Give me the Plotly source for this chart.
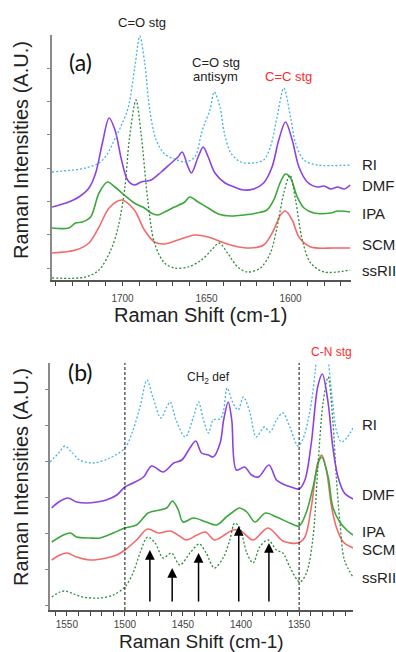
import plotly.graph_objects as go

W, H = 396, 652

# ---------------- Panel (a): 1565-1740 cm-1 (intensity in arbitrary units, stacked) -------------
a_RI_x = [1742, 1722, 1714, 1709.5, 1704, 1700.6, 1696.5, 1692.7, 1689.7, 1686.8, 1683.8, 1680, 1675, 1669, 1663,
          1657, 1653, 1651, 1648, 1645.4, 1642, 1639.4, 1635.5, 1629.6, 1622, 1616, 1612, 1608, 1604, 1600, 1597,
          1592, 1584, 1564]
a_RI_y = [108, 112, 117, 125, 143, 155, 173, 213, 244, 217, 170, 140, 126, 121, 118,
          123, 147, 157, 170, 188, 173, 147, 127, 118, 117, 120, 133, 163, 192, 163, 137,
          120, 115, 115]

a_DMF_x = [1742, 1732, 1726, 1720, 1716, 1712, 1708, 1704.5, 1700.6, 1697, 1693, 1689, 1683, 1677, 1671, 1667,
           1664.5, 1661, 1659, 1655, 1652, 1649, 1645, 1639, 1633.5, 1628, 1622, 1616, 1611, 1607, 1603, 1599,
           1595, 1590, 1584, 1580, 1576, 1572, 1568, 1564.5]
a_DMF_y = [73, 78, 83, 92, 107, 137, 162, 150, 120, 100, 95, 98, 100, 108, 117, 123,
           128, 113, 107, 123, 133, 123, 107, 97, 93, 90, 91, 97, 113, 140, 158, 140,
           113, 98, 93, 94, 91, 93, 91, 95]

a_IPA_x = [1742, 1732, 1728, 1724, 1719, 1714, 1709, 1704.5, 1699, 1693, 1687, 1683, 1679, 1675, 1669, 1663,
           1660, 1655, 1649, 1643, 1635.5, 1628, 1620, 1614, 1610, 1606, 1603, 1600, 1596, 1592, 1586, 1576,
           1572, 1564.5]
a_IPA_y = [52, 52, 57, 58, 63, 87, 98, 93, 85, 77, 72, 67, 65, 68, 73, 78,
           83, 78, 72, 66, 64, 65, 67, 70, 80, 98, 106, 102, 83, 72, 67, 67,
           69, 68]

a_SCM_x = [1742, 1728, 1720, 1714, 1708, 1700.6, 1693, 1687, 1681, 1675, 1667, 1657, 1649, 1641, 1633.5, 1624,
           1616, 1610, 1606, 1603, 1599, 1595, 1588, 1574, 1564.5]
a_SCM_y = [27, 30, 37, 53, 72, 80, 70, 50, 38, 36, 40, 45, 43, 38, 34, 32,
           35, 50, 65, 69, 60, 43, 33, 32, 32]

a_ssRII_x = [1742, 1722, 1714, 1707, 1702.6, 1698.6, 1696, 1692, 1689, 1685, 1681, 1675, 1669, 1661, 1653, 1647,
             1642.5, 1637.5, 1631.5, 1625.6, 1618, 1612, 1608, 1604, 1600.4, 1597, 1593, 1588, 1580, 1564.5]
a_ssRII_y = [2, 3, 10, 30, 53, 93, 140, 180, 147, 80, 37, 17, 12, 13, 20, 30,
             37, 27, 13, 8, 12, 27, 53, 87, 105, 80, 40, 17, 8, 10]

# ---------------- Panel (b): 1305-1565 cm-1 -------------
b_RI_x = [1564.5, 1557, 1551.6, 1546, 1539, 1527, 1513, 1500, 1493, 1487, 1481, 1476, 1469, 1464, 1461, 1456,
          1448, 1441, 1436.6, 1433, 1428, 1424, 1418, 1415, 1412, 1407, 1402.5, 1398, 1392.5, 1387, 1380, 1375,
          1369.5, 1364, 1358, 1351, 1347, 1341, 1336, 1333, 1330, 1327, 1324.5, 1321, 1318, 1313.6, 1309, 1303.6]
b_RI_y = [148, 157, 164, 158, 150, 147, 152, 162, 180, 203, 230, 213, 192, 203, 208, 190,
          173, 193, 208, 193, 177, 190, 191, 200, 222, 207, 200, 213, 198, 173, 183, 178,
          190, 197, 183, 164, 170, 197, 240, 290, 310, 290, 247, 207, 180, 168, 172, 182]

b_DMF_x = [1563, 1557, 1549, 1541.6, 1533, 1524, 1516, 1507, 1500, 1493, 1484, 1477, 1467, 1458, 1451, 1444,
           1439, 1434, 1428, 1424, 1418, 1415, 1411, 1408, 1404, 1397, 1391, 1385, 1376, 1369.5, 1364, 1357,
           1350, 1345, 1339.5, 1334, 1330, 1325, 1321, 1316.5, 1311, 1303.6]
b_DMF_y = [102, 108, 112, 108, 107, 108, 110, 115, 123, 127, 133, 144, 138, 147, 150, 162,
           169, 157, 155, 153, 167, 190, 208, 190, 140, 143, 135, 133, 145, 130, 126, 123,
           121, 130, 167, 223, 236, 207, 163, 133, 117, 111]

b_IPA_x = [1563, 1553, 1547, 1541.6, 1530, 1521.5, 1510, 1500, 1490, 1480, 1470, 1464, 1459, 1454, 1450, 1441,
           1430, 1421, 1412.7, 1407, 1401.6, 1395, 1388, 1379, 1369.5, 1358, 1350, 1344, 1338, 1332.6, 1330.5,
           1325, 1321, 1315, 1309, 1303.6]
b_IPA_y = [68, 75, 77, 73, 72, 72, 77, 82, 85, 97, 100, 102, 109, 100, 88, 92,
           88, 85, 93, 98, 102, 98, 88, 97, 93, 87, 84, 97, 123, 150, 153,
           133, 103, 88, 80, 75]

b_SCM_x = [1563, 1556, 1550, 1541.6, 1530, 1516, 1507, 1500, 1490, 1480.5, 1471, 1461, 1453, 1447, 1438, 1430.6,
           1422.6, 1407, 1400, 1389.6, 1376.7, 1364, 1351, 1345, 1339.5, 1334, 1330.5, 1326.5, 1322, 1318, 1312,
           1303.6]
b_SCM_y = [50, 55, 57, 53, 50, 52, 55, 60, 70, 81, 77, 79, 74, 70, 75, 78,
           70, 80, 79, 70, 82, 69, 67, 73, 103, 147, 155, 140, 103, 83, 68,
           62]

b_ssRII_x = [1563, 1556, 1551, 1544, 1536, 1521.5, 1510, 1500, 1493, 1487, 1480.5, 1474, 1467, 1460, 1452.7, 1444,
             1436, 1430, 1423, 1415, 1409.7, 1405.4, 1401, 1395, 1389.6, 1384, 1376.7, 1369.5, 1364, 1358, 1349.4,
             1343.7, 1338, 1334, 1329.4, 1325, 1321, 1318, 1315, 1311, 1303.6]
b_ssRII_y = [13, 18, 19, 16, 13, 12, 15, 23, 37, 57, 73, 67, 52, 57, 45, 57,
             66, 57, 42, 53, 70, 87, 82, 57, 47, 63, 70, 60, 57, 43, 28,
             37, 73, 140, 207, 233, 190, 133, 90, 50, 33]

# arrows in panel (b): position (cm-1), tip height
arrow_x = [1478.5, 1459.3, 1436.6, 1402, 1376]
arrow_tip = [60, 42, 57, 84, 67]
arrow_base = 7

series_names = ["RI", "DMF", "IPA", "SCM", "ssRII"]
colors = {"RI": "#45b3e6", "DMF": "#8c42e2", "IPA": "#3aa83a", "SCM": "#f46a6a", "ssRII": "#2f8a3a"}
dotted = {"RI": True, "DMF": False, "IPA": False, "SCM": False, "ssRII": True}

a_ticks = list(range(1570, 1741, 10))
b_ticks = list(range(1310, 1561, 10))


def lbl(v):
    return str(v) if v % 50 == 0 else ""


def px(x, y):
    return x / W, 1 - y / H


fig = go.Figure()

panel_a = {"RI": (a_RI_x, a_RI_y), "DMF": (a_DMF_x, a_DMF_y), "IPA": (a_IPA_x, a_IPA_y),
           "SCM": (a_SCM_x, a_SCM_y), "ssRII": (a_ssRII_x, a_ssRII_y)}
panel_b = {"RI": (b_RI_x, b_RI_y), "DMF": (b_DMF_x, b_DMF_y), "IPA": (b_IPA_x, b_IPA_y),
           "SCM": (b_SCM_x, b_SCM_y), "ssRII": (b_ssRII_x, b_ssRII_y)}

for axes, data in (("a", panel_a), ("b", panel_b)):
    for name in ["SCM", "IPA", "ssRII", "DMF", "RI"]:
        xs, ys = data[name]
        fig.add_trace(go.Scatter(
            x=xs, y=ys, mode="lines", name=name, showlegend=False,
            line=dict(color=colors[name], width=1.3 if dotted[name] else 1.6,
                      dash="2px,2px" if dotted[name] else "solid", shape="spline", smoothing=0.9),
            xaxis="x" if axes == "a" else "x2", yaxis="y" if axes == "a" else "y2",
            hoverinfo="skip"))

axis_common = dict(showgrid=False, zeroline=False, mirror=False)

fig.update_layout(
    width=W, height=H, margin=dict(l=0, r=0, t=0, b=0),
    paper_bgcolor="white", plot_bgcolor="white",
    font=dict(family="Liberation Sans, Arial, sans-serif", color="#222"),
    xaxis=dict(domain=[52 / W, 351 / W], range=[1742, 1564], anchor="y",
               tickvals=a_ticks, ticktext=[lbl(v) for v in a_ticks],
               ticks="outside", ticklen=4, tickwidth=1, tickcolor="#444",
               showline=True, linecolor="#555", linewidth=1.5,
               tickfont=dict(size=10, color="#444"), ticklabelstandoff=4, **axis_common),
    yaxis=dict(domain=[1 - 280 / H, 1 - 35 / H], range=[0, 245], anchor="x",
               tick0=12, dtick=33.3, ticks="outside", ticklen=3, tickcolor="#888",
               showticklabels=False, showline=True, linecolor="#8a8a8a", linewidth=2, **axis_common),
    xaxis2=dict(domain=[50 / W, 353 / W], range=[1564.5, 1303.6], anchor="y2",
                tickvals=b_ticks, ticktext=[lbl(v) for v in b_ticks],
                ticks="outside", ticklen=4, tickwidth=1, tickcolor="#444",
                showline=True, linecolor="#555", linewidth=1.5,
                tickfont=dict(size=10, color="#444"), ticklabelstandoff=0, **axis_common),
    yaxis2=dict(domain=[1 - 610 / H, 1 - 363 / H], range=[0, 247], anchor="x2",
                tick0=5, dtick=36, ticks="outside", ticklen=3, tickcolor="#888",
                showticklabels=False, showline=True, linecolor="#8a8a8a", linewidth=2, **axis_common),
)

# dashed vertical guide lines in (b)
for xv in (1500, 1350):
    fig.add_shape(type="line", xref="x2", yref="y2 domain", x0=xv, x1=xv, y0=0, y1=1,
                  line=dict(color="#111", width=1, dash="3px,2px"))

# arrows in (b)
for xv, tip in zip(arrow_x, arrow_tip):
    fig.add_annotation(x=xv, y=tip, ax=xv, ay=arrow_base, xref="x2", yref="y2", axref="x2", ayref="y2",
                       showarrow=True, arrowhead=2, arrowsize=1.3, arrowwidth=1.5, arrowcolor="#000", text="")

annots = []
# axis titles
annots.append(dict(text="Raman Shift (cm-1)", x=200, y=315, size=20, color="#222"))
annots.append(dict(text="Raman Shift (cm-1)", x=202, y=653, size=19, color="#222", yanchor="bottom"))
for (cx, cy) in ((21, 150), (21, 477)):
    annots.append(dict(text="Raman Intensities (A.U.)", x=cx, y=cy, size=20, color="#222", angle=-90))

# series labels
a_label_y = {"RI": 164, "DMF": 185, "IPA": 213, "SCM": 244, "ssRII": 270}
b_label_y = {"RI": 424, "DMF": 495, "IPA": 531, "SCM": 549, "ssRII": 577}
for name in series_names:
    annots.append(dict(text=name, x=361, y=a_label_y[name], size=15, color="#222", xanchor="left"))
    annots.append(dict(text=name, x=361, y=b_label_y[name], size=15, color="#222", xanchor="left"))

# band annotations
annots += [
    dict(text="C=O stg", x=142, y=22, size=13, color="#222"),
    dict(text="C=O stg", x=216, y=62, size=13, color="#222"),
    dict(text="antisym", x=216, y=77, size=13, color="#222"),
    dict(text="C=C stg", x=288, y=77, size=13, color="#ff2a2a"),
    dict(text="C-N stg", x=331, y=352, size=12, color="#ff2a2a"),
    dict(text="CH<sub>2</sub> def", x=208, y=378, size=12, color="#222"),
    dict(text="(a)", x=80, y=62, size=23, color="#111", family="Lato, Open Sans, sans-serif"),
    dict(text="(b)", x=80, y=372, size=23, color="#111", family="Lato, Open Sans, sans-serif"),
]

for a in annots:
    xx, yy = px(a["x"], a["y"])
    fig.add_annotation(
        text=a["text"], x=xx, y=yy, xref="paper", yref="paper", showarrow=False,
        xanchor=a.get("xanchor", "center"), yanchor=a.get("yanchor", "middle"), textangle=a.get("angle", 0),
        borderpad=0,
        font=dict(size=a["size"], color=a["color"],
                  family=a.get("family", "Liberation Sans, Arial, sans-serif")))

fig.write_html("out.html")
